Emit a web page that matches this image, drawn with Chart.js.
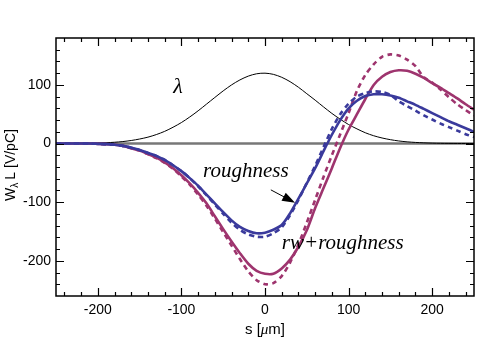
<!DOCTYPE html>
<html>
<head>
<meta charset="utf-8">
<script src="https://cdn.jsdelivr.net/npm/chart.js@4.4.1/dist/chart.umd.min.js"></script>
<style>
  html, body { margin: 0; padding: 0; background: #fff; }
  #wrap { width: 478px; height: 359px; }
</style>
</head>
<body>
<div id="wrap"><canvas id="wakeChart" width="478" height="359"></canvas></div>
<script>
// s positions [um]
const sPos = [-250, -240, -230, -220, -210, -200, -190, -180, -170, -160,
  -150, -140, -130, -120, -110, -100, -90, -80, -70, -60,
  -50, -40, -30, -20, -10, 0, 10, 20, 30, 40,
  50, 60, 70, 80, 90, 100, 110, 120, 130, 140,
  150, 160, 170, 180, 190, 200, 210, 220, 230, 240, 250];

// bunch shape lambda (arb. units)
const lambdaVals = [0, 0, 0.1, 0.3, 0.5, 0.9, 1.4, 2.2, 3.4, 5.2,
  7.7, 10.9, 15.3, 20.8, 27.8, 35.8, 45.3, 55.8, 67.2, 78.6,
  89.8, 100, 108.5, 115, 119, 120, 118, 113, 105.5, 96,
  85, 74, 62.5, 51.4, 41.5, 32.4, 25, 18.4, 13.3, 9.5,
  6.6, 4.4, 2.9, 1.9, 1.2, 0.7, 0.4, 0.25, 0.15, 0.1, 0];

// roughness wake, solid and dashed
const roughSolid = [0, 0, 0, 0, 0, -0.5, -1, -2, -4, -7,
  -11, -16, -21, -28, -37, -47, -59, -72, -87, -102,
  -117, -131, -142, -149, -153, -152, -147, -139, -119, -94,
  -68, -42, -13, 15, 40, 60, 73, 81, 84, 84,
  82, 78, 72, 66, 59, 52, 45, 38, 32, 26, 20];
const roughDashed = [0, 0, 0, 0, 0, -0.5, -1, -2, -4, -7,
  -11, -16, -21, -28, -37, -47, -59, -73, -88, -104,
  -120, -135, -147, -155, -159, -159, -153, -143, -122, -96,
  -67, -38, -6, 25, 50, 68, 80, 86, 89, 88,
  83, 72, 64, 56, 48, 41, 34, 28, 22, 16, 11];

// resistive wall + roughness wake, solid and dashed
const rwSolid = [0, 0, 0, 0, 0, -0.5, -1, -2, -4, -8,
  -12, -18, -24, -32, -42, -54, -68, -84, -102, -124,
  -146, -167, -187, -205, -217, -222, -222, -213, -198, -176,
  -148, -110, -76, -42, -7, 24, 50, 76, 100, 114,
  122, 125, 124, 119, 112, 103, 95, 86, 77, 67, 58];
const rwDashed = [0, 0, 0, 0, 0, -0.5, -1, -2, -4, -8,
  -12, -18, -25, -33, -43, -56, -70, -87, -106, -128,
  -151, -174, -197, -218, -233, -240, -238, -226, -203, -172,
  -135, -96, -57, -20, 16, 52, 90, 117, 135, 148,
  152, 150, 143, 132, 113, 104, 92, 79, 67, 57, 48];

const xTicks = [-200, -100, 0, 100, 200];
const yTicks = [-200, -100, 0, 100];

const toXY = (ys) => sPos.map((s, i) => ({ x: s, y: ys[i] }));

const BLUE = 'rgb(58, 58, 156)';
const MAG = 'rgb(158, 52, 110)';

const decor = {
  id: 'decor',
  afterDraw(chart) {
    const { ctx, chartArea: a, scales: { x, y } } = chart;
    ctx.save();
    // frame
    ctx.strokeStyle = '#000';
    ctx.lineWidth = 1.5;
    ctx.strokeRect(a.left, a.top, a.right - a.left, a.bottom - a.top);

    // inward ticks on all four sides
    ctx.lineWidth = 1.2;
    ctx.beginPath();
    for (let v = -240; v <= 240; v += 20) {
      const px = Math.round(x.getPixelForValue(v)) + 0.5;
      const len = v % 100 === 0 ? 8 : 4;
      ctx.moveTo(px, a.bottom); ctx.lineTo(px, a.bottom - len);
      ctx.moveTo(px, a.top); ctx.lineTo(px, a.top + len);
    }
    for (let v = -240; v <= 160; v += 20) {
      const py = Math.round(y.getPixelForValue(v)) + 0.5;
      const len = v % 100 === 0 ? 8 : 4;
      ctx.moveTo(a.left, py); ctx.lineTo(a.left + len, py);
      ctx.moveTo(a.right, py); ctx.lineTo(a.right - len, py);
    }
    ctx.stroke();

    // axis titles
    ctx.fillStyle = '#000';
    ctx.textBaseline = 'middle';
    const xt1 = 's [', xt3 = 'm]';
    ctx.font = '15px "Liberation Sans", Arial, sans-serif';
    const w1 = ctx.measureText(xt1).width, w3 = ctx.measureText(xt3).width;
    ctx.font = 'italic 15px "Liberation Serif", serif';
    const w2 = ctx.measureText('μ').width;
    let cx = (a.left + a.right) / 2 - (w1 + w2 + w3) / 2;
    const cy = 330;
    ctx.textAlign = 'left';
    ctx.font = '15px "Liberation Sans", Arial, sans-serif';
    ctx.fillText(xt1, cx, cy); cx += w1;
    ctx.font = 'italic 15px "Liberation Serif", serif';
    ctx.fillText('μ', cx, cy); cx += w2;
    ctx.font = '15px "Liberation Sans", Arial, sans-serif';
    ctx.fillText(xt3, cx, cy);

    // y title  W_lambda L [V/pC]
    ctx.translate(11, 165);
    ctx.rotate(-Math.PI / 2);
    ctx.font = '14px "Liberation Sans", Arial, sans-serif';
    const ya = ctx.measureText('W').width;
    const yc = ctx.measureText('L [V/pC]').width;
    ctx.font = '10px "Liberation Sans", Arial, sans-serif';
    const yb = ctx.measureText('λ').width + 3;
    let ty = -(ya + yb + yc) / 2;
    ctx.font = '14px "Liberation Sans", Arial, sans-serif';
    ctx.fillText('W', ty, 0); ty += ya;
    ctx.font = '10px "Liberation Sans", Arial, sans-serif';
    ctx.fillText('λ', ty, 4); ty += yb;
    ctx.font = '14px "Liberation Sans", Arial, sans-serif';
    ctx.fillText('L [V/pC]', ty, 0);
    ctx.restore();

    // annotations
    ctx.save();
    ctx.fillStyle = '#000';
    ctx.textAlign = 'center';
    ctx.textBaseline = 'middle';
    ctx.font = 'italic 22px "Liberation Serif", serif';
    ctx.fillText('λ', x.getPixelForValue(-104), y.getPixelForValue(96));
    ctx.font = 'italic 21px "Liberation Serif", serif';
    ctx.fillText('roughness', x.getPixelForValue(-23), y.getPixelForValue(-47));
    ctx.fillText('rw+roughness', x.getPixelForValue(93), y.getPixelForValue(-170));

    // arrow
    const x0 = x.getPixelForValue(7), y0 = y.getPixelForValue(-79);
    const x1 = x.getPixelForValue(36), y1 = y.getPixelForValue(-101);
    const ang = Math.atan2(y1 - y0, x1 - x0);
    ctx.strokeStyle = '#000';
    ctx.lineWidth = 1;
    ctx.beginPath();
    ctx.moveTo(x0, y0);
    ctx.lineTo(x1 - 8 * Math.cos(ang), y1 - 8 * Math.sin(ang));
    ctx.stroke();
    ctx.beginPath();
    ctx.moveTo(x1, y1);
    ctx.lineTo(x1 - 13 * Math.cos(ang) + 4.5 * Math.sin(ang), y1 - 13 * Math.sin(ang) - 4.5 * Math.cos(ang));
    ctx.lineTo(x1 - 13 * Math.cos(ang) - 4.5 * Math.sin(ang), y1 - 13 * Math.sin(ang) + 4.5 * Math.cos(ang));
    ctx.closePath();
    ctx.fill();
    ctx.restore();
  }
};

new Chart(document.getElementById('wakeChart'), {
  type: 'line',
  data: {
    datasets: [
      {
        label: 'zero',
        data: [{ x: -250, y: 0 }, { x: 250, y: 0 }],
        borderColor: '#777',
        borderWidth: 2.5,
        pointRadius: 0,
        order: 6
      },
      {
        label: 'lambda',
        data: toXY(lambdaVals),
        borderColor: '#000',
        borderWidth: 1,
        pointRadius: 0,
        tension: 0.3,
        order: 5
      },
      {
        label: 'rw+roughness dashed',
        data: toXY(rwDashed),
        borderColor: MAG,
        borderWidth: 2.6,
        borderDash: [5, 4],
        pointRadius: 0,
        tension: 0.25,
        order: 4
      },
      {
        label: 'rw+roughness',
        data: toXY(rwSolid),
        borderColor: MAG,
        borderWidth: 2.6,
        pointRadius: 0,
        tension: 0.25,
        order: 3
      },
      {
        label: 'roughness dashed',
        data: toXY(roughDashed),
        borderColor: BLUE,
        borderWidth: 2.6,
        borderDash: [5, 4],
        pointRadius: 0,
        tension: 0.25,
        order: 2
      },
      {
        label: 'roughness',
        data: toXY(roughSolid),
        borderColor: BLUE,
        borderWidth: 2.6,
        pointRadius: 0,
        tension: 0.25,
        order: 1
      }
    ]
  },
  options: {
    responsive: false,
    animation: false,
    events: [],
    layout: { padding: { left: 0, right: 4, top: 38, bottom: 0 } },
    plugins: { legend: { display: false }, tooltip: { enabled: false } },
    scales: {
      x: {
        type: 'linear',
        min: -250,
        max: 250,
        afterFit: (s) => { s.height = 63; },
        afterBuildTicks: (s) => { s.ticks = xTicks.map(v => ({ value: v })); },
        grid: { display: false, drawTicks: false },
        border: { display: false },
        ticks: {
          padding: 6,
          color: '#000',
          maxRotation: 0,
          font: { family: '"Liberation Sans", Arial, sans-serif', size: 14 }
        }
      },
      y: {
        type: 'linear',
        min: -260,
        max: 180,
        afterFit: (s) => { s.width = 56; },
        afterBuildTicks: (s) => { s.ticks = yTicks.map(v => ({ value: v })); },
        grid: { display: false, drawTicks: false },
        border: { display: false },
        ticks: {
          padding: 5,
          color: '#000',
          font: { family: '"Liberation Sans", Arial, sans-serif', size: 14 }
        }
      }
    }
  },
  plugins: [decor]
});
</script>
</body>
</html>
